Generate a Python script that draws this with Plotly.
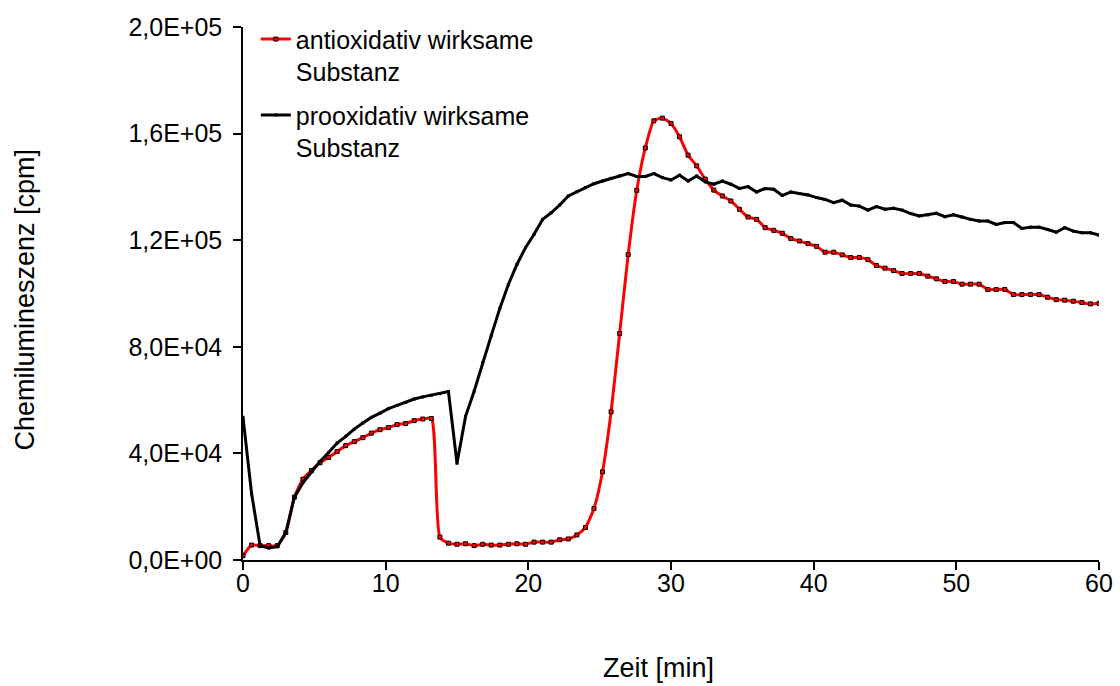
import plotly.graph_objects as go

# time grid in minutes (0 .. 60, step 0.6)
time_min = [round(i * 0.6, 1) for i in range(101)]

# Chemiluminescence values in thousands of cpm
anti_k = [
    1.6, 5.6, 5.4, 5.4, 5.4, 10.3, 23.6, 30.3, 33.6, 36.5,
    38.5, 40.7, 42.9, 44.4, 45.9, 47.6, 48.9, 49.7, 50.8, 51.2,
    52.3, 52.9, 53.1, 8.6, 6.3, 5.9, 6.1, 5.4, 5.9, 5.6,
    5.6, 5.9, 6.1, 5.9, 6.7, 6.7, 6.7, 7.6, 7.9, 9.4,
    12.2, 19.3, 33.1, 55.6, 85.0, 114.6, 138.7, 154.6, 164.8, 165.8,
    163.8, 158.8, 151.9, 147.9, 142.9, 138.8, 136.6, 134.7, 131.6, 128.7,
    127.8, 124.7, 123.7, 122.6, 120.6, 119.7, 118.7, 117.7, 115.5, 115.5,
    114.5, 113.5, 113.5, 112.7, 110.5, 109.5, 108.6, 107.5, 107.5, 107.5,
    106.5, 105.5, 104.5, 104.5, 103.5, 103.5, 103.5, 101.5, 101.5, 101.5,
    99.6, 99.6, 99.6, 99.6, 98.6, 97.7, 97.5, 97.1, 96.6, 96.1,
    96.3,
]

pro_k = [
    53.6, 25.0, 5.3, 4.5, 5.0, 10.3, 23.5, 29.0, 33.0, 37.0,
    40.3, 43.9, 46.4, 49.1, 51.4, 53.5, 55.1, 56.8, 58.0, 59.1,
    60.4, 61.2, 61.8, 62.4, 63.2, 36.3, 53.9, 63.3, 74.0, 84.2,
    94.4, 103.4, 110.9, 117.2, 122.2, 127.8, 130.3, 133.2, 136.6, 138.2,
    139.7, 141.2, 142.2, 143.2, 144.1, 145.0, 143.9, 143.9, 145.0, 143.5,
    142.6, 144.4, 142.2, 144.1, 141.9, 141.0, 142.2, 141.0, 139.4, 140.1,
    138.1, 139.4, 139.1, 136.8, 138.1, 137.5, 137.0, 136.0, 135.3, 134.1,
    135.0, 133.2, 132.8, 131.3, 132.6, 131.6, 132.0, 131.3, 130.0, 129.1,
    129.5, 130.1, 128.8, 129.5, 128.7, 127.8, 127.2, 127.2, 125.9, 126.6,
    126.6, 124.4, 124.9, 124.9, 124.0, 123.0, 124.7, 123.4, 122.8, 122.8,
    121.9,
]

anti = [v * 1000 for v in anti_k]
pro = [v * 1000 for v in pro_k]

y_tickvals = [0, 40000, 80000, 120000, 160000, 200000]
y_ticktext = ["0,0E+00", "4,0E+04", "8,0E+04", "1,2E+05", "1,6E+05", "2,0E+05"]
x_tickvals = [0, 10, 20, 30, 40, 50, 60]

font_family = "Liberation Sans, Arial, sans-serif"

fig = go.Figure()
fig.add_trace(go.Scatter(
    x=time_min, y=anti, mode="lines+markers",
    name="antioxidativ wirksame<br>Substanz",
    line=dict(color="#ff0000", width=3, shape="spline", smoothing=0.6),
    marker=dict(symbol="square", size=4, color="#ff0000",
                line=dict(color="black", width=1)),
    legendgroup="a",
))
fig.add_trace(go.Scatter(
    x=time_min, y=pro, mode="lines+markers",
    name="prooxidativ wirksame<br>Substanz",
    line=dict(color="black", width=3),
    marker=dict(symbol="square", size=3, color="black"),
    legendgroup="b",
))

fig.update_layout(
    width=1120, height=686,
    margin=dict(l=243, r=21, t=27, b=126, autoexpand=False),
    paper_bgcolor="white", plot_bgcolor="white",
    font=dict(family=font_family, size=25, color="black"),
    showlegend=True,
    legend=dict(
        x=0.015, y=1.02, xanchor="left", yanchor="top",
        bgcolor="rgba(0,0,0,0)", traceorder="grouped",
        tracegroupgap=8, valign="top",
        font=dict(family=font_family, size=25, color="black"),
        itemwidth=30,
    ),
    xaxis=dict(
        range=[0, 60], tickvals=x_tickvals, automargin=False,
        showgrid=False, zeroline=False,
        showline=True, linecolor="black", linewidth=1.5,
        ticks="outside", ticklen=8, tickwidth=1.5, tickcolor="black",
        tickfont=dict(size=25), ticklabelstandoff=-8,
    ),
    yaxis=dict(
        range=[0, 200000], tickvals=y_tickvals, ticktext=y_ticktext,
        automargin=False,
        showgrid=False, zeroline=False,
        showline=True, linecolor="black", linewidth=1.5,
        ticks="outside", ticklen=8, tickwidth=1.5, tickcolor="black",
        tickfont=dict(size=25), ticklabelstandoff=6,
    ),
    annotations=[
        dict(text="Zeit [min]", xref="paper", yref="paper",
             x=0.485, y=-0.2026, xanchor="center", yanchor="middle",
             showarrow=False, font=dict(size=27)),
        dict(text="Chemilumineszenz [cpm]", xref="paper", yref="paper",
             x=-0.255, y=0.488, xanchor="center", yanchor="middle",
             textangle=-90, showarrow=False, font=dict(size=27)),
    ],
)

fig.write_html("out.html")
